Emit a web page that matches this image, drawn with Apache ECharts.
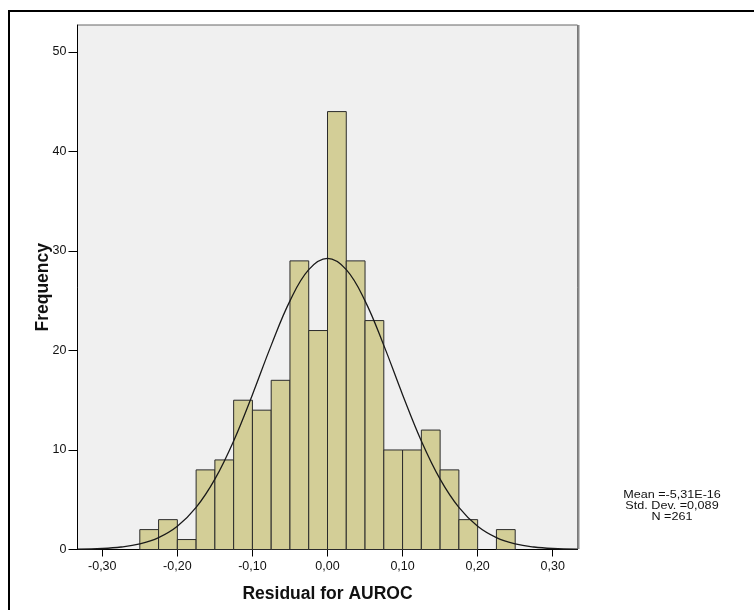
<!DOCTYPE html>
<html>
<head>
<meta charset="utf-8">
<script src="https://cdn.jsdelivr.net/npm/echarts@6/dist/echarts.min.js"></script>
<style>
  html, body { margin: 0; padding: 0; background: #fff; }
  #chart { width: 754px; height: 610px; }
</style>
</head>
<body>
<div id="chart"></div>
<script>
// histogram bins (lower edge) and counts
const binWidth = 0.025;
const binLow = [-0.25, -0.225, -0.2, -0.175, -0.15, -0.125, -0.1, -0.075, -0.05, -0.025,
    0, 0.025, 0.05, 0.075, 0.1, 0.125, 0.15, 0.175, 0.2, 0.225];
const counts = [2, 3, 1, 8, 9, 15, 14, 17, 29, 22, 44, 29, 23, 10, 10, 12, 8, 3, 0, 2];

// normal curve
const curveX = [-0.333, -0.3, -0.275, -0.25, -0.225, -0.2, -0.175, -0.15, -0.125, -0.1, -0.075, -0.05, -0.025,
    0, 0.025, 0.05, 0.075, 0.1, 0.125, 0.15, 0.175, 0.2, 0.225, 0.25, 0.275, 0.3, 0.333];
const curveY = [0.03, 0.10, 0.25, 0.57, 1.20, 2.34, 4.23, 7.07, 10.91, 15.56, 20.51, 24.98, 28.12,
    29.25, 28.12, 24.98, 20.51, 15.56, 10.91, 7.07, 4.23, 2.34, 1.20, 0.57, 0.25, 0.10, 0.03];

const xTicks = [-0.3, -0.2, -0.1, 0, 0.1, 0.2, 0.3];
const yTicks = [0, 10, 20, 30, 40, 50];
const statsLines = ['Mean =-5,31E-16', 'Std. Dev. =0,089', 'N =261'];

const font = 'Arial, "Liberation Sans", sans-serif';

const chart = echarts.init(document.getElementById('chart'));

const fmt = v => {
    const s = Math.abs(v) < 1e-9 ? '0.00' : v.toFixed(2);
    return s.replace('.', ',');
};

const option = {
    animation: false,
    grid: {
        left: 77.5, top: 25, width: 500, height: 524.5,
        show: true,
        backgroundColor: '#f0f0f0',
        borderColor: '#666',
        borderWidth: 1
    },
    xAxis: {
        type: 'value',
        min: -0.333,
        max: 0.333,
        splitLine: { show: false },
        axisLine: { onZero: false, lineStyle: { color: '#000', width: 1 } },
        axisTick: { length: 7, customValues: xTicks, lineStyle: { color: '#000' } },
        axisLabel: {
            customValues: xTicks,
            formatter: fmt,
            margin: 11,
            color: '#111',
            fontSize: 12.5,
            fontFamily: font
        },
        name: 'Residual for AUROC',
        nameLocation: 'middle',
        nameGap: 36,
        nameMoveOverlap: false,
        nameTextStyle: { fontSize: 17.5, fontWeight: 'bold', color: '#111', fontFamily: font }
    },
    yAxis: {
        type: 'value',
        min: 0,
        max: 52.7,
        splitLine: { show: false },
        axisLine: { show: true, onZero: false, lineStyle: { color: '#000', width: 1 } },
        axisTick: { show: true, length: 9, customValues: yTicks, lineStyle: { color: '#000' } },
        axisLabel: {
            customValues: yTicks,
            margin: 11,
            color: '#111',
            fontSize: 12.5,
            fontFamily: font
        },
        name: 'Frequency',
        nameLocation: 'middle',
        nameGap: 25,
        nameMoveOverlap: false,
        nameTextStyle: { fontSize: 17.5, fontWeight: 'bold', color: '#111', fontFamily: font }
    },
    graphic: [
        {
            type: 'rect',
            shape: { x: 9, y: 11, width: 800, height: 700 },
            style: { fill: 'none', stroke: '#000', lineWidth: 2 },
            silent: true
        },
        {
            type: 'line',
            shape: { x1: 578.5, y1: 25, x2: 578.5, y2: 549 },
            style: { stroke: '#8c8c8c', lineWidth: 2 },
            silent: true
        },
        {
            type: 'text',
            x: 672,
            y: 489.5,
            scaleX: 1.2,
            style: {
                text: statsLines.join('\n'),
                fontSize: 10.5,
                lineHeight: 11.2,
                fontFamily: font,
                fill: '#111',
                align: 'center',
                verticalAlign: 'top'
            }
        }
    ],
    series: [
        {
            type: 'custom',
            data: binLow.map((lo, i) => [lo, lo + binWidth, counts[i]]),
            renderItem: (params, api) => {
                const h = api.value(2);
                if (!h) return null;
                const p0 = api.coord([api.value(0), h]);
                const p1 = api.coord([api.value(1), 0]);
                return {
                    type: 'rect',
                    shape: { x: p0[0], y: p0[1], width: p1[0] - p0[0], height: p1[1] - p0[1] },
                    style: { fill: '#d3ce97', stroke: '#2b2b2b', lineWidth: 1 }
                };
            },
            z: 2
        },
        {
            type: 'line',
            data: curveX.map((x, i) => [x, curveY[i]]),
            smooth: 0.4,
            showSymbol: false,
            lineStyle: { color: '#1a1a1a', width: 1.3 },
            z: 3
        }
    ]
};

chart.setOption(option);
</script>
</body>
</html>
